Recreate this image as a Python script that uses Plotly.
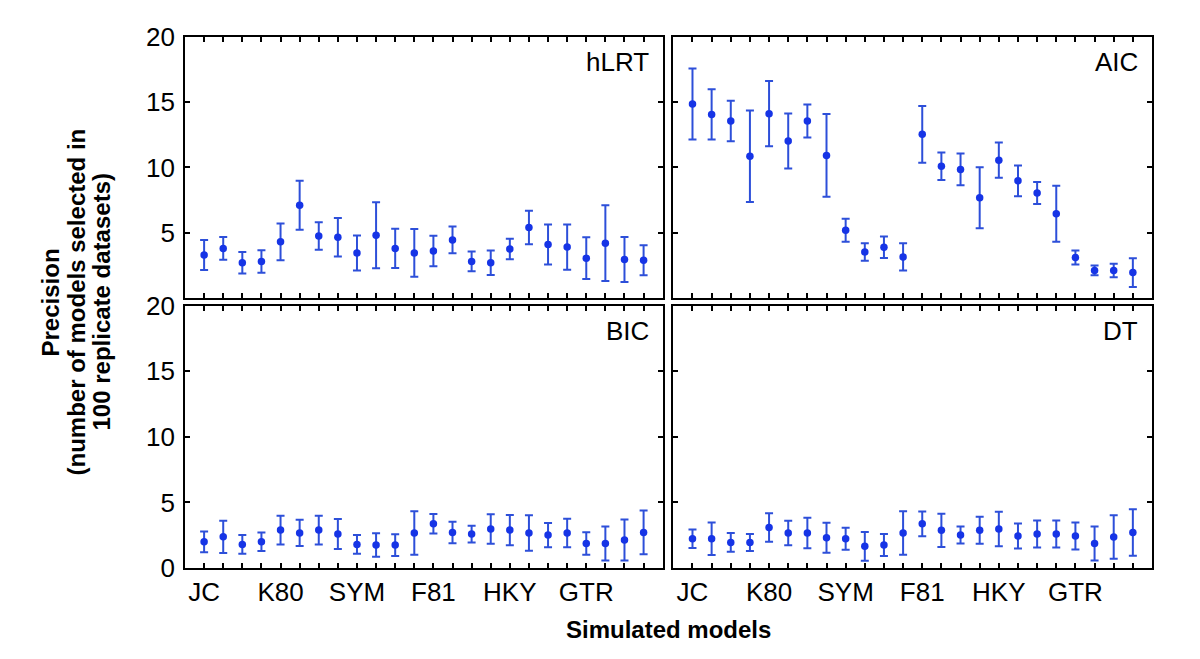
import plotly.graph_objects as go

models = ["JC", "K80", "SYM", "F81", "HKY", "GTR"]
positions = list(range(1, 25))
label_positions = [1, 5, 9, 13, 17, 21]

hlrt_mean = [3.3, 3.8, 2.7, 2.8, 4.3, 7.1, 4.75, 4.65, 3.45, 4.8, 3.8, 3.45,
             3.6, 4.45, 2.8, 2.7, 3.75, 5.4, 4.1, 3.9, 3.05, 4.2, 2.95, 2.9]
hlrt_err = [1.15, 0.87, 0.82, 0.86, 1.4, 1.88, 1.05, 1.47, 1.34, 2.53, 1.5, 1.83,
            1.16, 1.03, 0.76, 0.93, 0.79, 1.28, 1.53, 1.74, 1.6, 2.9, 1.73, 1.15]

aic_mean = [14.86, 14.07, 13.56, 10.86, 14.12, 12.03, 13.56, 10.92, 5.19, 3.53, 3.89, 3.15,
            12.54, 10.1, 9.85, 7.68, 10.56, 8.98, 8.04, 6.46, 3.1, 2.11, 2.11, 1.95]
aic_err = [2.72, 1.92, 1.55, 3.5, 2.5, 2.1, 1.27, 3.17, 0.89, 0.67, 0.82, 1.05,
           2.18, 1.05, 1.22, 2.34, 1.35, 1.18, 0.84, 2.15, 0.54, 0.37, 0.52, 1.1]

bic_mean = [2.0, 2.38, 1.8, 2.0, 2.89, 2.67, 2.89, 2.59, 1.8, 1.75, 1.75, 2.67,
            3.37, 2.71, 2.59, 2.97, 2.89, 2.67, 2.51, 2.67, 1.87, 1.87, 2.13, 2.71]
bic_err = [0.79, 1.23, 0.71, 0.71, 1.1, 1.0, 1.1, 1.15, 0.71, 0.9, 0.83, 1.65,
           0.74, 0.82, 0.64, 1.12, 1.16, 1.35, 0.93, 1.08, 0.85, 1.3, 1.56, 1.67]

dt_mean = [2.23, 2.23, 1.95, 1.95, 3.09, 2.67, 2.67, 2.31, 2.23, 1.65, 1.75, 2.67,
           3.37, 2.87, 2.51, 2.87, 2.97, 2.44, 2.59, 2.59, 2.44, 1.87, 2.36, 2.71]
dt_err = [0.71, 1.24, 0.72, 0.65, 1.08, 0.93, 1.17, 1.14, 0.83, 1.09, 0.84, 1.65,
          0.94, 1.27, 0.65, 1.03, 1.32, 0.95, 1.03, 1.03, 1.03, 1.3, 1.66, 1.77]

panel_names = ["hLRT", "AIC", "BIC", "DT"]
panel_means = [hlrt_mean, aic_mean, bic_mean, dt_mean]
panel_errs = [hlrt_err, aic_err, bic_err, dt_err]

y_title_lines = ["Precision", "(number of models selected in", "100 replicate datasets)"]
x_title = "Simulated models"

MARKER_COLOR = "#1634e6"
BAR_COLOR = "#2d4fd9"
FONT = "Liberation Sans, Arial, Helvetica, sans-serif"

fig = go.Figure()
for i, (name, m, e) in enumerate(zip(panel_names, panel_means, panel_errs)):
    suffix = "" if i == 0 else str(i + 1)
    fig.add_trace(go.Scatter(
        x=positions, y=m, mode="markers", name=name,
        xaxis="x" + suffix, yaxis="y" + suffix,
        marker=dict(color=MARKER_COLOR, size=7.5),
        error_y=dict(type="data", array=e, symmetric=True,
                     color=BAR_COLOR, thickness=2, width=4),
        showlegend=False,
    ))

x_left = [0, 0.494]
x_right = [0.505, 1]
y_top = [0.5085, 1]
y_bot = [0, 0.494]

ticktext = [models[label_positions.index(p)] if p in label_positions else "" for p in positions]

def xaxis(domain, anchor, labels):
    return dict(domain=domain, anchor=anchor, range=[0, 25],
                tickvals=positions, ticktext=ticktext if labels else [""] * 24,
                showticklabels=labels, ticks="inside", ticklen=5, tickwidth=1.5,
                tickcolor="black", showline=True, linecolor="black", linewidth=1.8,
                mirror="ticks", showgrid=False, zeroline=False,
                tickfont=dict(size=26, color="black", family=FONT))

def yaxis(domain, anchor, labels, tickvals):
    return dict(domain=domain, anchor=anchor, range=[0, 20],
                tickvals=tickvals, showticklabels=labels, ticks="inside",
                ticklen=5, tickwidth=1.5, tickcolor="black", showline=True,
                linecolor="black", linewidth=1.8, mirror="ticks",
                showgrid=False, zeroline=False, ticklabelstandoff=3,
                tickfont=dict(size=26, color="black", family=FONT))

fig.update_layout(
    width=1192, height=651,
    margin=dict(l=177, r=48, t=29, b=91),
    paper_bgcolor="white", plot_bgcolor="white",
    font=dict(family=FONT, color="black"),
    xaxis=xaxis(x_left, "y", False),
    yaxis=yaxis(y_top, "x", True, [5, 10, 15, 20]),
    xaxis2=xaxis(x_right, "y2", False),
    yaxis2=yaxis(y_top, "x2", False, [5, 10, 15]),
    xaxis3=xaxis(x_left, "y3", True),
    yaxis3=yaxis(y_bot, "x3", True, [0, 5, 10, 15, 20]),
    xaxis4=xaxis(x_right, "y4", True),
    yaxis4=yaxis(y_bot, "x4", False, [5, 10, 15]),
)

annotations = []
for i, name in enumerate(panel_names):
    suffix = "" if i == 0 else str(i + 1)
    annotations.append(dict(
        text=name, xref="x" + suffix + " domain", yref="y" + suffix + " domain",
        x=1, y=0.903, xanchor="right", yanchor="middle", xshift=-12,
        showarrow=False, font=dict(size=26, color="black", family=FONT)))

plot_w = 1192 - 177 - 48
for line, px in zip(y_title_lines, [42, 68, 93]):
    annotations.append(dict(
        text="<b>" + line + "</b>", xref="paper", yref="paper",
        x=(px - 177) / plot_w, y=0.5, xanchor="center", yanchor="middle",
        textangle=-90, showarrow=False,
        font=dict(size=24, color="black", family=FONT)))

annotations.append(dict(
    text="<b>" + x_title + "</b>", xref="paper", yref="paper",
    x=0.5, y=-0.116, xanchor="center", yanchor="middle", showarrow=False,
    font=dict(size=24, color="black", family=FONT)))

fig.update_layout(annotations=annotations)

fig.write_html("out.html")
